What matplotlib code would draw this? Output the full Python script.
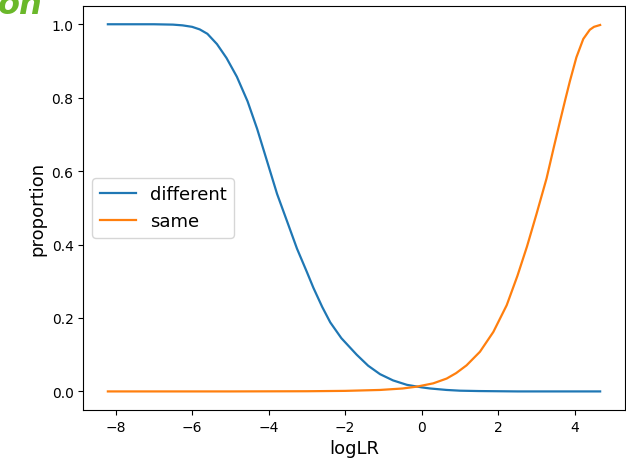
import numpy as np
import matplotlib
matplotlib.use("Agg")
import matplotlib.pyplot as plt

# values
diff_x = [-8.2, -7.0, -6.5, -6.25, -6.0, -5.8, -5.6, -5.35, -5.1, -4.83, -4.55, -4.3,
          -4.05, -3.78, -3.5, -3.26, -3.0, -2.83, -2.6, -2.39, -2.1, -1.7, -1.4, -1.09,
          -0.75, -0.39, 0.0, 0.22, 0.65, 1.0, 1.5, 2.5, 4.66]
diff_y = [1.0, 1.0, 0.999, 0.997, 0.993, 0.986, 0.974, 0.946, 0.908, 0.857, 0.79, 0.715,
          0.63, 0.538, 0.458, 0.389, 0.325, 0.282, 0.23, 0.188, 0.145, 0.1, 0.07, 0.047,
          0.03, 0.018, 0.011, 0.008, 0.004, 0.002, 0.001, 0.0, 0.0]

same_x = [-8.2, -5.0, -3.0, -2.0, -1.09, -0.5, -0.13, 0.3, 0.65, 0.9, 1.17, 1.52, 1.87,
          2.22, 2.5, 2.75, 3.0, 3.26, 3.45, 3.61, 3.75, 3.87, 4.04, 4.22, 4.39, 4.5, 4.66]
same_y = [0.0, 0.0, 0.0005, 0.0015, 0.004, 0.008, 0.013, 0.022, 0.035, 0.05, 0.071,
          0.108, 0.162, 0.235, 0.315, 0.395, 0.484, 0.58, 0.665, 0.735, 0.795, 0.845,
          0.91, 0.96, 0.985, 0.993, 0.998]

fig = plt.figure(figsize=(6.26, 4.6), dpi=100)
ax = fig.add_axes([0.133, 0.107, 0.865, 0.878])

ax.plot(diff_x, diff_y, color="tab:blue", lw=1.6, label="different")
ax.plot(same_x, same_y, color="tab:orange", lw=1.6, label="same")
ax.set_xlabel("logLR", fontsize=13)
ax.set_ylabel("proportion", fontsize=13)
ax.tick_params(labelsize=10)
ax.legend(loc="center left", fontsize=13)

# clipped slide title fragment in the top-left corner
fig.text(-0.004, 1 - 14 / 460, "on", ha="left", va="baseline", fontsize=23,
         fontweight="bold", style="italic", color="#6ab82a")

fig.savefig("out.png", dpi=100)
